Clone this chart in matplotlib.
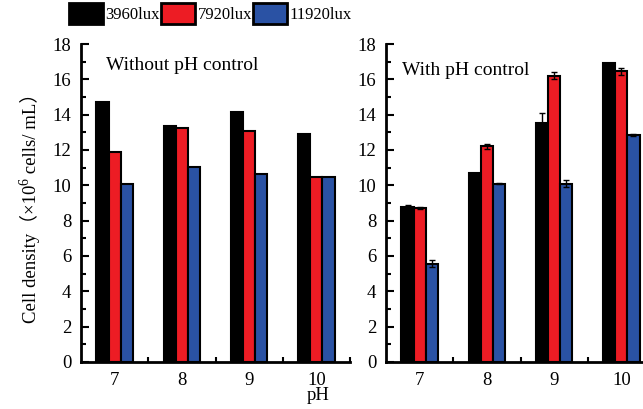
import numpy as np
import matplotlib.pyplot as plt
from matplotlib.patches import Patch
from matplotlib.ticker import MultipleLocator, FixedLocator

plt.rcParams['font.family'] = ['Liberation Serif', 'Noto Sans CJK SC', 'DejaVu Sans']

ph = [7, 8, 9, 10]
labels = ['3960lux', '7920lux', '11920lux']
colors = ['#000000', '#ED1C24', '#2A52A4']

# without pH control
no_ctrl = [
    [14.7, 13.35, 14.15, 12.9],
    [11.9, 13.25, 13.05, 10.45],
    [10.05, 11.05, 10.65, 10.5],
]
# with pH control
ctrl = [
    [8.8, 10.7, 13.55, 16.95],
    [8.7, 12.2, 16.2, 16.45],
    [5.55, 10.1, 10.1, 12.85],
]
ctrl_err = [
    [0.1, 0.0, 0.55, 0.0],
    [0.05, 0.15, 0.2, 0.2],
    [0.2, 0.05, 0.2, 0.05],
]

fig = plt.figure(figsize=(6.43, 4.09), dpi=100)
ax1 = fig.add_axes([81/643, 47/409, 269/643, 318/409])
ax2 = fig.add_axes([386/643, 47/409, 269/643, 318/409])

w = 0.18
x = np.array(ph, dtype=float)

def draw(ax, data, err=None):
    for i in range(3):
        ax.bar(x + (i - 1) * w, data[i], width=w, color=colors[i],
               edgecolor='black', linewidth=1.5, zorder=2)
        if err is not None:
            ax.errorbar(x + (i - 1) * w, data[i], yerr=err[i], fmt='none',
                        ecolor='black', elinewidth=1, capsize=2.5, capthick=1, zorder=3)
    ax.set_xlim(6.5, 10.5)
    ax.set_ylim(0, 18)
    ax.set_xticks(ph)
    ax.xaxis.set_minor_locator(FixedLocator([7.5, 8.5, 9.5, 10.5]))
    ax.yaxis.set_major_locator(MultipleLocator(2))
    ax.yaxis.set_minor_locator(MultipleLocator(1))
    ax.tick_params(which='both', direction='in', width=1.5, labelsize=13.5, top=False, right=False)
    ax.tick_params(which='major', length=6, pad=7)
    ax.tick_params(which='minor', length=3.5)
    for s in ['top', 'right']:
        ax.spines[s].set_visible(False)
    for s in ['left', 'bottom']:
        ax.spines[s].set_linewidth(2)

draw(ax1, no_ctrl)
draw(ax2, ctrl, ctrl_err)

ax1.text(6.87, 16.8, 'Without pH control', fontsize=14, va='center')
ax2.text(6.74, 16.5, 'With pH control', fontsize=14, va='center')

# y label built from pieces so the exponent is a real superscript
renderer = fig.canvas.get_renderer()
lx = 30 / 643
y = (409 - 323) / 409
parts = [('Cell density（×10', 13.5, 0), ('6', 10, -5 / 643), (' cells/ mL）', 13.5, 0)]
for txt, fs, dx in parts:
    t = fig.text(lx + dx, y, txt, rotation=90, fontsize=fs, ha='center', va='bottom')
    bb = t.get_window_extent(renderer)
    y += bb.height / fig.bbox.height
fig.text(318/643, 1 - 396/409, 'pH', fontsize=13.5, ha='center', va='center')

handles = [Patch(facecolor=c, edgecolor='black', linewidth=2) for c in colors]
fig.legend(handles, labels, loc='upper left', bbox_to_anchor=(69/643, 1 - 3/409),
           ncol=3, frameon=False, fontsize=12, handlelength=2.05, handleheight=1.55,
           handletextpad=0.15, columnspacing=0.05, borderpad=0, borderaxespad=0)

fig.savefig('out.png', dpi=100)
